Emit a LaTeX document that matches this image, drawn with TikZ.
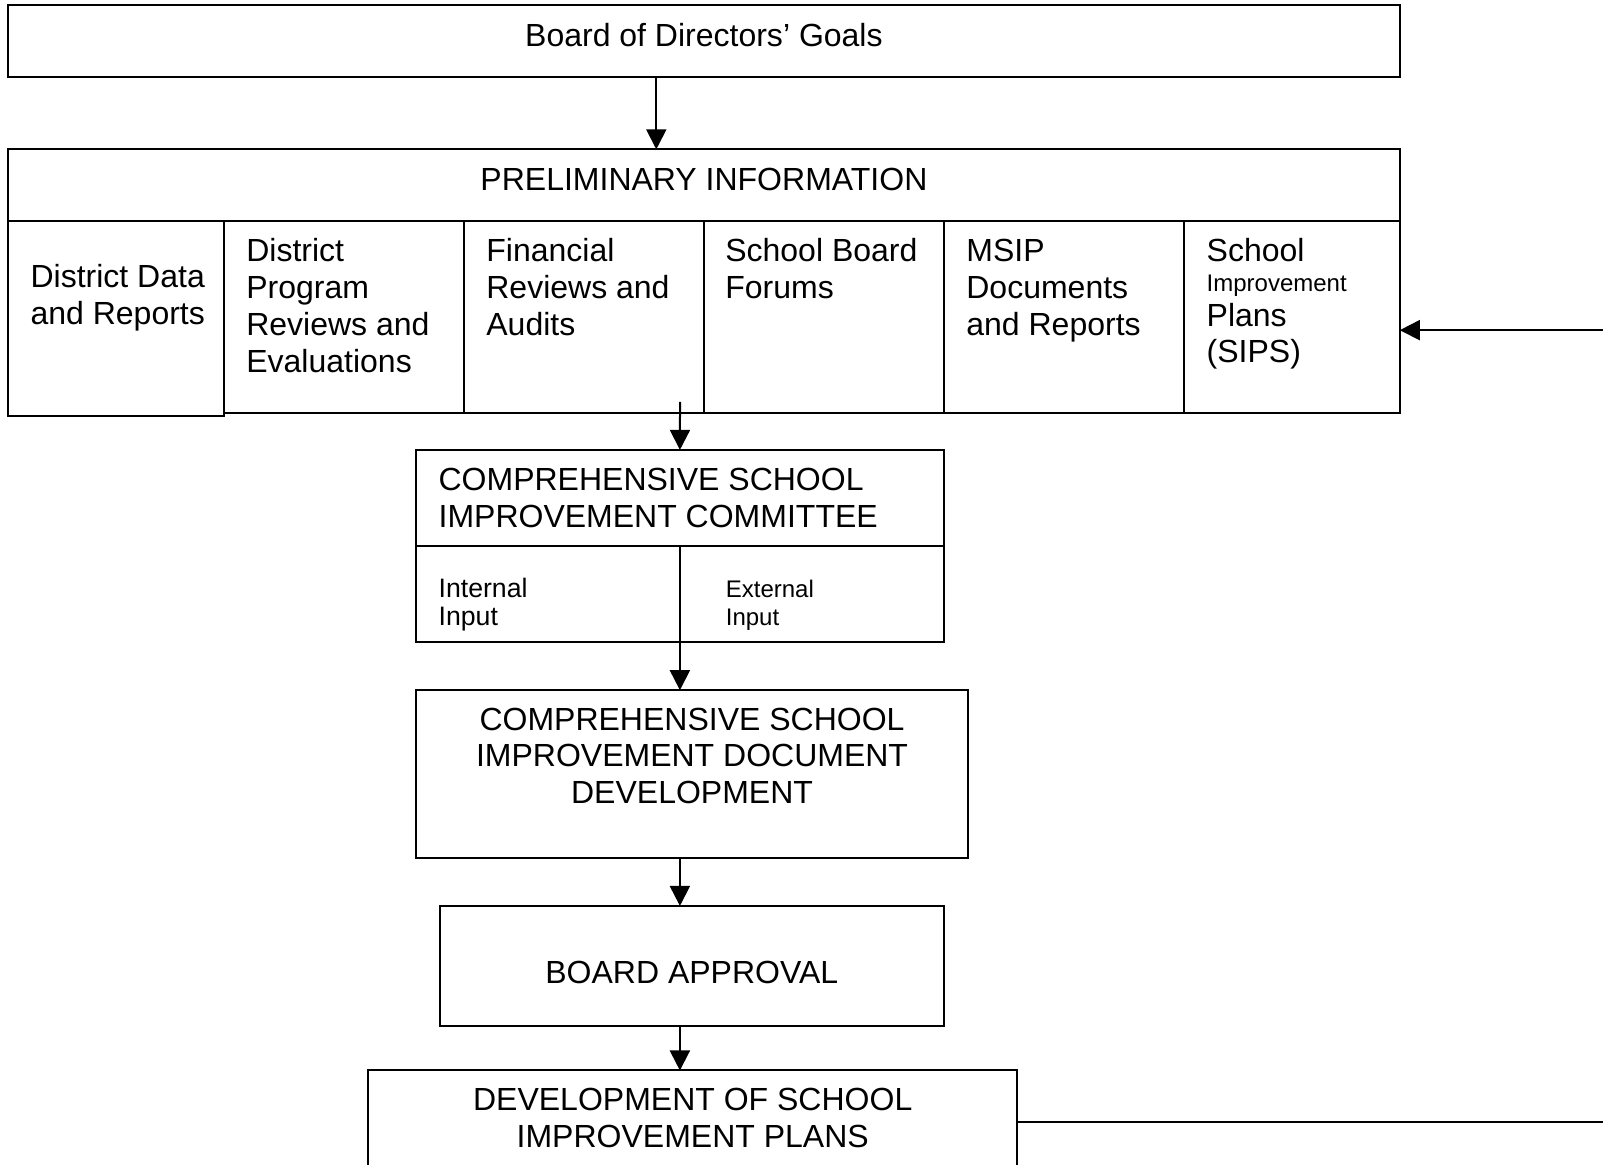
\documentclass[tikz,border=0pt]{standalone}
\usepackage{fontspec}
\setmainfont{Liberation Sans}
\usetikzlibrary{arrows.meta,positioning}

\tikzset{
  box/.style={draw, anchor=north west, inner sep=0pt, outer sep=0pt},
  lbl/.style={inner sep=0pt, anchor=base west, align=left},
  clbl/.style={inner sep=0pt, anchor=base, align=center},
  small/.style={font=\fontsize{10}{10.7}\selectfont},
  smaller/.style={font=\fontsize{9}{10.7}\selectfont},
}

\begin{document}
\begin{tikzpicture}[>={Triangle[length=7.5pt,width=7.5pt]}, line width=.75pt,
    font=\fontsize{12}{13.8}\selectfont, x=1pt, y=-1pt]

    \useasboundingbox (0,0) rectangle (601.1,436.5);

    % goals
    \node[box, minimum width=521.7pt, minimum height=26.9pt] (goals) at (3.1,1.9) {};
    \node[clbl] (goalstxt) at ([yshift=-15.4pt]goals.north) {Board of Directors’ Goals};

    % preliminary information
    \node[box, minimum width=521.7pt, minimum height=26.8pt] (prelim) at (3.1,56.0) {};
    \node[clbl] (prelimtxt) at ([yshift=-15.4pt]prelim.north) {PRELIMINARY INFORMATION};

    \node[box, minimum width=80.9pt, minimum height=73.2pt] (data) at (prelim.south west) {};
    \node[box, minimum width=90pt, minimum height=72.1pt] (program) at (data.north east) {};
    \node[box, minimum width=90pt, minimum height=72.1pt] (audits) at (program.north east) {};
    \node[box, minimum width=90pt, minimum height=72.1pt] (forums) at (audits.north east) {};
    \node[box, minimum width=90pt, minimum height=72.1pt] (msip) at (forums.north east) {};
    \node[box, minimum width=80.9pt, minimum height=72.1pt] (sips) at (msip.north east) {};

    % base = last line
    \node[lbl] (datatxt) at ([xshift=8pt,yshift=-38.8pt]data.north west) {District Data\\and Reports};
    \node[lbl] (programtxt) at ([xshift=8pt,yshift=-56.8pt]program.north west) {District\\Program\\Reviews and\\Evaluations};
    \node[lbl] (auditstxt) at ([xshift=8pt,yshift=-43pt]audits.north west) {Financial\\Reviews and\\Audits};
    \node[lbl] (forumstxt) at ([xshift=7.6pt,yshift=-29.2pt]forums.north west) {School Board\\Forums};
    \node[lbl] (msiptxt) at ([xshift=8pt,yshift=-43pt]msip.north west) {MSIP\\Documents\\and Reports};
    \node[lbl] (sipstxt) at ([xshift=8.1pt,yshift=-53.3pt]sips.north west)
        {School\\[-2.6pt]{\fontsize{9}{10.4}\selectfont Improvement}\\[-0.9pt]Plans\\(SIPS)};

    \draw[->] ([xshift=-17.85pt]goals.south) -- ([xshift=-17.85pt]prelim.north);

    % committee
    \node[box, minimum width=197.9pt, minimum height=72.1pt] (committee) at (156.0,168.7) {};
    \node[lbl] (committeetxt) at ([xshift=8.1pt,yshift=-29.2pt]committee.north west)
        {COMPREHENSIVE SCHOOL\\IMPROVEMENT COMMITTEE};
    \coordinate (split) at (255.0,204.7);
    \draw (committee.west |- split) -- (committee.east |- split);
    \draw (split) -- (split |- committee.south);
    \node[lbl, small] (internal) at ([xshift=8.1pt,yshift=-66pt]committee.north west) {Internal\\Input};
    \node[lbl, smaller] (external) at ([xshift=16.8pt]split |- internal.base) {External\\Input};

    \coordinate (feed) at (255.0,150.7);
    \draw[->] (feed) -- (committee.north);

    % document development
    \node[box, minimum width=207pt, minimum height=62.9pt] (document) at (156.0,258.8) {};
    \node[clbl] (documenttxt) at ([yshift=-42.6pt]document.north)
        {COMPREHENSIVE SCHOOL\\IMPROVEMENT DOCUMENT\\DEVELOPMENT};
    \draw[->] (committee.south) -- (committee.south |- document.north);

    % approval
    \node[box, minimum width=189pt, minimum height=45.2pt] (approval) at (164.9,339.7) {};
    \node[clbl] (approvaltxt) at ([yshift=-29.2pt]approval.north) {BOARD APPROVAL};
    \draw[->] (committee.south |- document.south) -- (committee.south |- approval.north);

    % school plans
    \node[box, minimum width=243.5pt, minimum height=50pt] (plans) at (138.0,401.4) {};
    \node[clbl] (planstxt) at ([yshift=-28.8pt]plans.north) {DEVELOPMENT OF SCHOOL\\IMPROVEMENT PLANS};
    \draw[->] (committee.south |- approval.south) -- (committee.south |- plans.north);

    % loop back
    \coordinate (loopin) at (601.1,123.8);
    \coordinate (loopout) at (601.1,420.6);
    \draw[->] (loopin) -- (loopin -| sips.east);
    \draw (plans.east |- loopout) -- (loopout);

\end{tikzpicture}
\end{document}
